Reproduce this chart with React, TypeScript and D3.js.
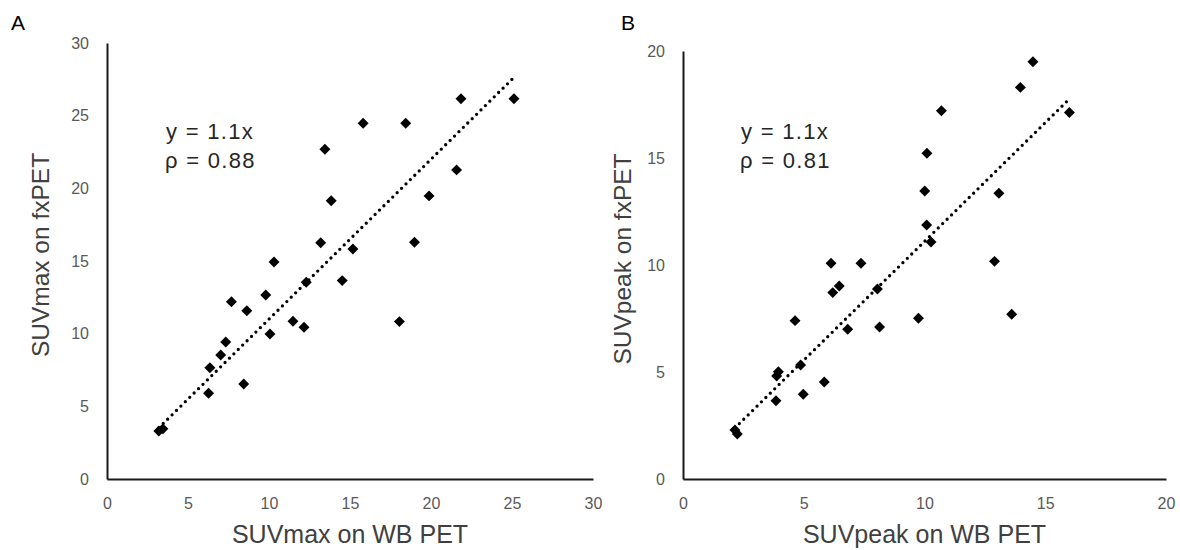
import React, { useEffect, useRef } from 'react';
import * as d3 from 'd3';

// Panel A: SUVmax
const suvMaxWB = [3.2, 3.45, 6.27, 8.44, 6.35, 7.02, 7.33, 7.68, 8.63, 9.8, 10.06, 10.31, 11.48, 12.16, 12.3, 13.19, 14.52, 15.18, 15.81, 18.44, 21.85, 25.12, 21.58, 19.88, 18.98, 18.05, 13.45, 13.84];
const suvMaxFx = [3.3, 3.45, 5.9, 6.54, 7.66, 8.53, 9.43, 12.2, 11.58, 12.66, 9.98, 14.93, 10.85, 10.44, 13.54, 16.26, 13.65, 15.83, 24.48, 24.48, 26.17, 26.17, 21.27, 19.48, 16.29, 10.83, 22.69, 19.15];

// Panel B: SUVpeak
const suvPeakWB = [2.15, 2.25, 3.85, 4.98, 5.85, 3.95, 3.88, 4.87, 4.64, 6.13, 7.37, 6.47, 6.2, 6.82, 8.14, 8.05, 9.75, 10.09, 10.27, 14.49, 13.97, 10.7, 10.1, 10.01, 13.08, 16.0, 12.9, 13.61];
const suvPeakFx = [2.29, 2.1, 3.66, 3.96, 4.53, 5.01, 4.81, 5.33, 7.4, 10.08, 10.08, 9.02, 8.71, 7.0, 7.1, 8.88, 7.51, 11.87, 11.07, 19.5, 18.3, 17.21, 15.22, 13.46, 13.35, 17.13, 10.17, 7.7];

const ticksA = [0, 5, 10, 15, 20, 25, 30];
const ticksB = [0, 5, 10, 15, 20];

const panels = [
    { letter: 'A', xs: suvMaxWB, ys: suvMaxFx, max: 30, ticks: ticksA, slope: 1.1,
      eq: 'y = 1.1x', rho: 'ρ = 0.88', xTitle: 'SUVmax on WB PET', yTitle: 'SUVmax on fxPET',
      left: 107, right: 593, top: 43, bottom: 479, letterX: 11, eqX: 166, yTitleX: 49 },
    { letter: 'B', xs: suvPeakWB, ys: suvPeakFx, max: 20, ticks: ticksB, slope: 1.11,
      eq: 'y = 1.1x', rho: 'ρ = 0.81', xTitle: 'SUVpeak on WB PET', yTitle: 'SUVpeak on fxPET',
      left: 683, right: 1166, top: 51, bottom: 479, letterX: 621, eqX: 741, yTitleX: 631 }
];

const font = '"Liberation Sans", Arial, sans-serif';

export default function App() {
    const ref = useRef<SVGSVGElement>(null);

    useEffect(() => {
        const svg = d3.select(ref.current);
        svg.selectAll('*').remove();

        panels.forEach(p => {
            const x = d3.scaleLinear().domain([0, p.max]).range([p.left, p.right]);
            const y = d3.scaleLinear().domain([0, p.max]).range([p.bottom, p.top]);
            const g = svg.append('g');

            const xAxis = g.append('g')
                .attr('transform', `translate(0,${p.bottom})`)
                .call(d3.axisBottom(x).tickValues(p.ticks).tickSize(0).tickPadding(19));
            const yAxis = g.append('g')
                .attr('transform', `translate(${p.left},0)`)
                .call(d3.axisLeft(y).tickValues(p.ticks).tickSize(0).tickPadding(18));

            [xAxis, yAxis].forEach(a => {
                a.select('.domain').attr('stroke', '#1a1a1a').attr('stroke-width', 2);
                a.selectAll('text')
                    .attr('fill', '#595959')
                    .style('font-family', font)
                    .style('font-size', '16px');
            });

            // trend line
            const [x0, x1] = d3.extent(p.xs) as [number, number];
            const line = d3.line<number>().x(v => x(v)).y(v => y(v * p.slope));
            g.append('path')
                .attr('d', line([x0, x1]))
                .attr('fill', 'none')
                .attr('stroke', '#000')
                .attr('stroke-width', 3.3)
                .attr('stroke-linecap', 'round')
                .attr('stroke-dasharray', '0 6.2');

            // points
            const diamond = d3.symbol(d3.symbolSquare).size(60);
            g.selectAll('path.pt')
                .data(p.xs.map((v, i) => [v, p.ys[i]]))
                .enter().append('path')
                .attr('class', 'pt')
                .attr('d', diamond)
                .attr('fill', '#000')
                .attr('transform', d => `translate(${x(d[0])},${y(d[1])}) rotate(45)`);

            // equation text
            g.append('text')
                .attr('x', p.eqX).attr('y', 139)
                .attr('fill', '#262626')
                .style('font-family', font).style('font-size', '22px')
                .style('letter-spacing', '1.3px')
                .text(p.eq);
            g.append('text')
                .attr('x', p.eqX - 1).attr('y', 168)
                .attr('fill', '#262626')
                .style('font-family', font).style('font-size', '22px')
                .style('letter-spacing', '1.3px')
                .text(p.rho);

            // axis titles
            g.append('text')
                .attr('x', (p.left + p.right) / 2).attr('y', 543)
                .attr('text-anchor', 'middle')
                .attr('fill', '#404040')
                .style('font-family', font).style('font-size', '25px')
                .text(p.xTitle);
            g.append('text')
                .attr('transform', `translate(${p.yTitleX},${(p.top + p.bottom) / 2 - 6}) rotate(-90)`)
                .attr('text-anchor', 'middle')
                .attr('fill', '#404040')
                .style('font-family', font).style('font-size', '24.5px')
                .text(p.yTitle);

            // panel letter
            g.append('text')
                .attr('x', p.letterX).attr('y', 30)
                .attr('fill', '#000')
                .style('font-family', font).style('font-size', '21px')
                .text(p.letter);
        });
    }, []);

    return (
        <svg ref={ref} width={1180} height={550}
            style={{ position: 'absolute', left: 0, top: 0, background: '#fff' }} />
    );
}
